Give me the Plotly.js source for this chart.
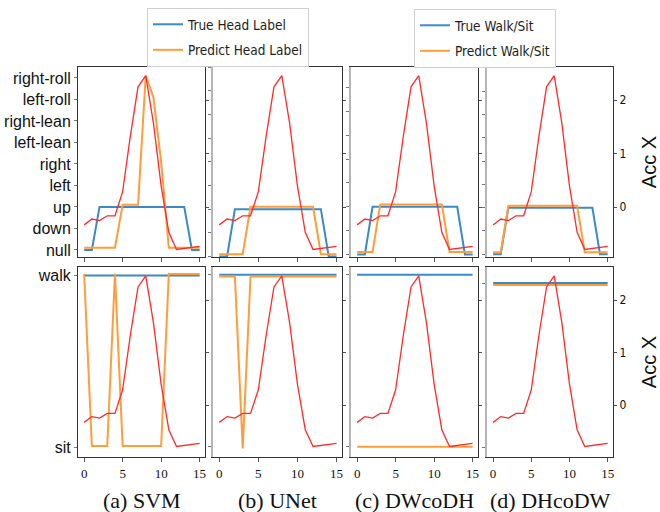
<!DOCTYPE html>
<html>
<head>
<meta charset="utf-8">
<script src="https://cdn.plot.ly/plotly-3.0.1.min.js"></script>
<style>html,body{margin:0;padding:0;background:#fff;}#chart{width:660px;height:512px;}</style>
</head>
<body>
<div id="chart"></div>
<script>
// ---- data ----
const timeSteps = [0,1,2,3,4,5,6,7,8,9,10,11,12,13,14,15];
const accX = [-0.33,-0.22,-0.25,-0.16,-0.16,0.29,1.33,2.25,2.46,1.57,0.40,-0.47,-0.79,-0.77,-0.75,-0.73];
const headLabels = ['null','down','up','left','right','left-lean','right-lean','left-roll','right-roll'];
const walkSitLabels = ['sit','walk'];
const methods = ['(a) SVM','(b) UNet','(c) DWcoDH','(d) DHcoDW'];
const accTicks = [0,1,2];
const xTicks = [0,5,10,15];

const trueHead = [0,0,2,2,2,2,2,2,2,2,2,2,2,2,0,0];
const predHeadSVM = [0,0,0,0,0,2,2,2,8,7,4,0,0,0,0,0];
const predHeadUNet = [0,0,0,0,2,2,2,2,2,2,2,2,2,0,0,0];
const predHeadDWcoDH = [0,0,0,2,2,2,2,2,2,2,2,2,0,0,0,0];
const predHeadDHcoDW = [0,0,2,2,2,2,2,2,2,2,2,2,0,0,0,0];

const trueWalk = [1,1,1,1,1,1,1,1,1,1,1,1,1,1,1,1];
const predWalkSVM = [1,0,0,0,1,0,0,0,0,0,0,1,1,1,1,1];
const predWalkUNet = [1,1,1,0,1,1,1,1,1,1,1,1,1,1,1,1];
const predWalkDWcoDH = [0,0,0,0,0,0,0,0,0,0,0,0,0,0,0,0];
const predWalkDHcoDW = [1,1,1,1,1,1,1,1,1,1,1,1,1,1,1,1];

// ---- styling / layout ----
const predHead = [predHeadSVM, predHeadUNet, predHeadDWcoDH, predHeadDHcoDW];
const predWalk = [predWalkSVM, predWalkUNet, predWalkDWcoDH, predWalkDHcoDW];
const BLUE = '#3a8ac6', ORANGE = '#ff9d3a', RED = '#ff2a2a';
const colDom = [[78,205],[213,342],[351,478],[487,613]].map(d => [d[0]/660, d[1]/660]);
const rowDom = [[67,257],[267,457]].map(d => [1 - d[1]/512, 1 - d[0]/512]);
const topRanges = [[-0.33,8.51],[-0.02,8.0],[-0.11,7.87],[-0.12,8.04]];
const botRanges = [[-0.054,1.05],[-0.06,1.045],[-0.06,1.045],[-0.055,1.097]];
const topOffset = [0.1,0.1,0.1,0.08];
const botOffset = [0.01,-0.01,0,-0.012];
const accRanges = [[-0.93,2.62],[-0.99,2.63]];
const sansFont = 'Liberation Sans, Arial, sans-serif';
const narrowFont = 'Liberation Sans Narrow, DejaVu Sans Condensed, Liberation Sans, sans-serif';
const serifFont = 'Liberation Serif, Times New Roman, serif';

function an(n){ return n === 1 ? '' : String(n); }

const traces = [];
const layout = {
  width: 660, height: 512,
  margin: {l:0, r:0, t:0, b:0},
  paper_bgcolor: '#fff', plot_bgcolor: '#fff',
  showlegend: true,
  legend: {x:147/660, y:1-8/512, xanchor:'left', yanchor:'top', bgcolor:'#fff',
           bordercolor:'#cfcfcf', borderwidth:1, tracegroupgap:5,
           font:{family:narrowFont, size:13.5, color:'#222'}},
  legend2: {x:414/660, y:1-9/512, xanchor:'left', yanchor:'top', bgcolor:'#fff',
           bordercolor:'#cfcfcf', borderwidth:1, tracegroupgap:5,
           font:{family:narrowFont, size:13.5, color:'#222'}},
  annotations: [],
};

for (let r = 0; r < 2; r++) {
  for (let c = 0; c < 4; c++) {
    const idx = r*4 + c + 1;
    const xa = 'x' + an(idx), ya = 'y' + an(idx), yr = 'y' + (idx + 8);
    const isTop = r === 0;
    const trueVals = isTop ? trueHead : trueWalk;
    const predVals = isTop ? predHead[c] : predWalk[c];
    const off = isTop ? topOffset[c] : botOffset[c];
    traces.push({
      x: timeSteps, y: trueVals, xaxis: xa, yaxis: ya, mode: 'lines',
      line: {color: BLUE, width: 2},
      name: isTop ? 'True Head Label' : 'True Walk/Sit',
      legend: isTop ? 'legend' : 'legend2',
      legendgroup: isTop ? 'th' : 'tw',
      showlegend: c === 0, hoverinfo: 'skip'
    });
    traces.push({
      x: timeSteps, y: predVals.map(v => v + off), xaxis: xa, yaxis: ya, mode: 'lines',
      line: {color: ORANGE, width: 2},
      name: isTop ? 'Predict Head Label' : 'Predict Walk/Sit',
      legend: isTop ? 'legend' : 'legend2',
      legendgroup: isTop ? 'ph' : 'pw',
      showlegend: c === 0, hoverinfo: 'skip'
    });
    traces.push({
      x: timeSteps, y: accX, xaxis: xa, yaxis: yr, mode: 'lines',
      line: {color: RED, width: 1.3}, showlegend: false, hoverinfo: 'skip'
    });

    layout['xaxis' + an(idx)] = {
      domain: colDom[c], anchor: ya, range: [-0.8, 15.7],
      tickvals: xTicks, showticklabels: !isTop,
      ticks: 'outside', ticklen: 4, tickcolor: '#555', tickwidth: 1,
      showline: true, mirror: true, linecolor: '#333', linewidth: 1,
      showgrid: false, zeroline: false,
      tickfont: {family: serifFont, size: 13, color: '#111'}
    };
    layout['yaxis' + an(idx)] = {
      domain: rowDom[r], anchor: xa,
      range: isTop ? topRanges[c] : botRanges[c],
      tickvals: isTop ? headLabels.map((_, i) => i) : walkSitLabels.map((_, i) => i),
      ticktext: isTop ? headLabels : walkSitLabels,
      showticklabels: c === 0,
      ticks: 'outside', ticklen: 3, tickcolor: '#777', tickwidth: 1,
      showline: true, linecolor: c === 0 ? '#333' : '#b5b5b5', linewidth: c === 0 ? 1 : 2,
      showgrid: false, zeroline: false,
      tickfont: {family: sansFont, size: 16, color: '#111'}
    };
    const right = {
      overlaying: ya, side: 'right', anchor: xa,
      range: accRanges[r], tickvals: accTicks, showticklabels: c === 3,
      ticks: 'outside', ticklen: 3, tickcolor: '#555', tickwidth: 1,
      showline: true, linecolor: '#333', linewidth: 1,
      showgrid: false, zeroline: false,
      tickfont: {family: narrowFont, size: 12, color: '#111'}
    };
    if (c === 3) right.title = {text: 'Acc X', font: {family: sansFont, size: 20, color: '#111'}, standoff: 16};
    layout['yaxis' + (idx + 8)] = right;
  }
}

methods.forEach((m, c) => {
  layout.annotations.push({
    text: m, xref: 'paper', yref: 'paper',
    x: (colDom[c][0] + colDom[c][1]) / 2, y: 1 - 500/512,
    xanchor: 'center', yanchor: 'middle', showarrow: false,
    font: {family: serifFont, size: 22, color: '#111'}
  });
});

Plotly.newPlot('chart', traces, layout, {staticPlot: true, displayModeBar: false});
</script>
</body>
</html>
